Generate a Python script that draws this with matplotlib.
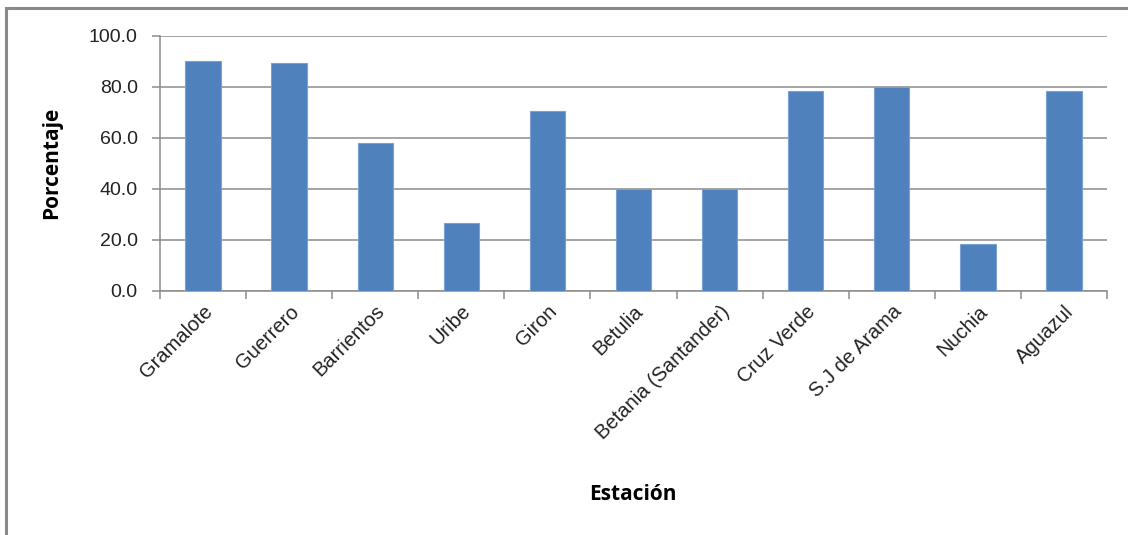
import numpy as np
import matplotlib
matplotlib.use("Agg")
import matplotlib.pyplot as plt
from matplotlib.patches import Rectangle

estaciones = ["Gramalote", "Guerrero", "Barrientos", "Uribe", "Giron", "Betulia",
              "Betania (Santander)", "Cruz Verde", "S.J de Arama", "Nuchia", "Aguazul"]
porcentaje = [90.2, 89.3, 57.9, 26.6, 70.6, 39.8, 39.8, 78.4, 80.1, 18.5, 78.4]
y_ticks = [0, 20, 40, 60, 80, 100]

plt.rcParams['font.family'] = ['Liberation Sans', 'DejaVu Sans']
grid_col = '#8c8c8c'

fig = plt.figure(figsize=(11.28, 5.35), dpi=100)
ax = fig.add_axes([160 / 1128, 1 - 290.7 / 535, (1107 - 160) / 1128, (290.7 - 36) / 535])

x = np.arange(len(estaciones))
ax.bar(x, porcentaje, width=0.41, color='#4f81bd', edgecolor='#7aa1d2', linewidth=0.8, zorder=3)

ax.set_xlim(-0.5, len(estaciones) - 0.5)
ax.set_ylim(0, 100)
ax.set_yticks(y_ticks)
ax.set_yticklabels([f"{v:.1f}" for v in y_ticks], fontsize=14, color='#222222')
ax.yaxis.grid(True, color=grid_col, linewidth=1.1, zorder=0)

# category labels at centers, tick marks at boundaries
ax.set_xticks(x)
ax.set_xticklabels(estaciones, rotation=45, ha='right', rotation_mode='anchor',
                   fontsize=14.5, color='#222222')
ax.tick_params(axis='x', which='major', length=0, pad=8)
ax.set_xticks(np.arange(-0.5, len(estaciones)), minor=True)
ax.tick_params(axis='x', which='minor', length=6, width=1.1, color=grid_col, direction='out')
ax.tick_params(axis='y', length=6, width=1.1, color=grid_col, pad=10)

for s in ['top', 'right']:
    ax.spines[s].set_visible(False)
for s in ['left', 'bottom']:
    ax.spines[s].set_color(grid_col)
    ax.spines[s].set_linewidth(1.1)

fig.text(52 / 1128, 1 - 163 / 535, "Porcentaje", rotation=90, ha='center', va='center',
         fontsize=15, fontweight='bold', family=['Open Sans', 'DejaVu Sans'])
fig.text(633 / 1128, 1 - 494 / 535, "Estación", ha='center', va='center',
         fontsize=15, fontweight='bold', family=['Open Sans', 'DejaVu Sans'])

# outer chart frame (cropped on right and bottom)
fig.patches.append(Rectangle((5.5 / 1128, -0.1), 1.2, 1 - 8.5 / 535 + 0.1,
                             transform=fig.transFigure, fill=False,
                             edgecolor='#8a8a8a', linewidth=2.2))

fig.savefig("out.png", dpi=100)
